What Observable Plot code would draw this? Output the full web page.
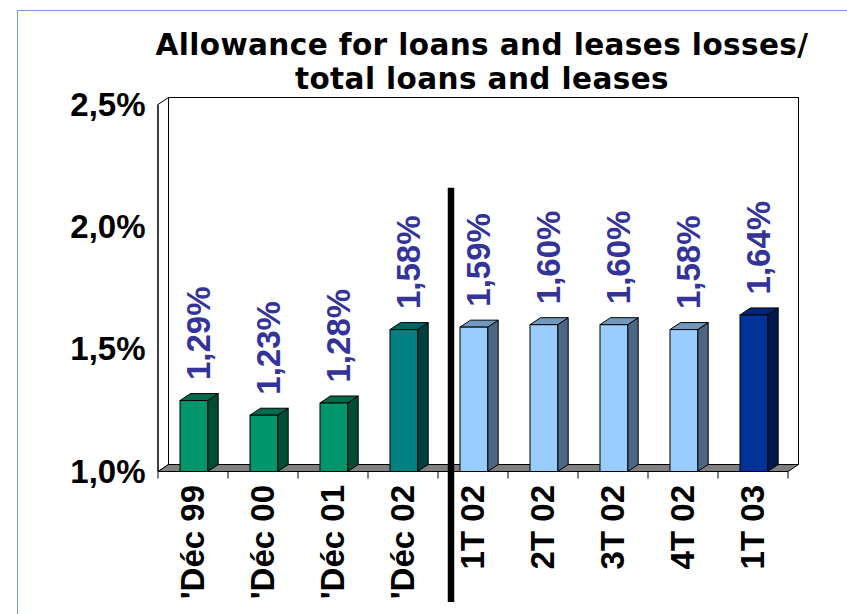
<!DOCTYPE html>
<html>
<head>
<meta charset="utf-8">
<script src="https://cdn.jsdelivr.net/npm/d3@7"></script>
<script src="https://cdn.jsdelivr.net/npm/@observablehq/plot@0.6"></script>
<style>
  html, body { margin: 0; padding: 0; background: #fff; }
  #wrap { position: relative; width: 847px; height: 614px; overflow: hidden; }
  #border { position: absolute; left: 17px; top: 10px; width: 900px; height: 700px;
            border-left: 1.5px solid #7c9ce0; border-top: 1.5px solid #7c9ce0; }
  .title { position: absolute; left: 82px; width: 800px; text-align: center;
           font-family: "DejaVu Sans", sans-serif; font-weight: bold; font-size: 29.5px;
           letter-spacing: 0.4px; line-height: 34px; color: #000; white-space: nowrap; }
  #t1 { top: 27.8px; }
  #t2 { top: 62.3px; }
  #chart { position: absolute; left: 0; top: 0; }
</style>
</head>
<body>
<div id="wrap">
  <div id="border"></div>
  <div id="chart"></div>
  <div class="title" id="t1">Allowance for loans and leases losses/</div>
  <div class="title" id="t2">total loans and leases</div>
</div>
<script>
// ---- data ----
const categories = ["'Déc 99", "'Déc 00", "'Déc 01", "'Déc 02", "1T 02", "2T 02", "3T 02", "4T 02", "1T 03"];
const values = [1.29, 1.23, 1.28, 1.58, 1.59, 1.60, 1.60, 1.58, 1.64];
const groups = ["year", "year", "year", "yearLast", "quarter", "quarter", "quarter", "quarter", "current"];
const yTicks = [1.0, 1.5, 2.0, 2.5];
const yDomain = [1.0, 2.5];
const separatorBefore = "1T 02";
const separatorTop = 2.16;

// ---- styles ----
const palette = {
  year:     {front: "#00956A", top: "#006B4A", side: "#004D35"},
  yearLast: {front: "#008080", top: "#006363", side: "#004040"},
  quarter:  {front: "#99CCFF", top: "#7099C2", side: "#4D6684"},
  current:  {front: "#003399", top: "#002575", side: "#001A4D"}
};
const DX = 10.5, DY = -7;           // 3D depth offset
const insetL = 22, barW = 27.7;     // front face inside each band
const fmt = v => v.toFixed(2).replace(".", ",") + "%";
const fmtTick = v => v.toFixed(1).replace(".", ",") + "%";
const labelFont = "'Liberation Sans', Arial, sans-serif";

const data = categories.map((c, i) => ({cat: c, value: values[i], group: groups[i], label: fmt(values[i])}));

function bandStep(x) {
  return x.bandwidth ? x.bandwidth() : (x(categories[1]) - x(categories[0]));
}

// back/left walls, floor, front axis line and x ticks
function walls(index, scales, vals, dims) {
  const {x, y} = scales;
  const x0 = dims.marginLeft, x1 = dims.width - dims.marginRight;
  const yb = y(yDomain[0]), yt = y(yDomain[1]);
  const g = d3.create("svg:g").attr("stroke", "#000").attr("stroke-width", 1);
  g.append("rect").attr("x", x0 + DX).attr("y", yt + DY).attr("width", x1 - x0).attr("height", yb - yt)
    .attr("fill", "#fff");
  g.append("polygon").attr("points", [[x0, yt], [x0 + DX, yt + DY], [x0 + DX, yb + DY], [x0, yb]].join(" "))
    .attr("fill", "#fff");
  g.append("polygon").attr("points", [[x0, yb], [x0 + DX, yb + DY], [x1 + DX, yb + DY], [x1, yb]].join(" "))
    .attr("fill", "#808080");
  g.append("line").attr("x1", x0).attr("x2", x0).attr("y1", yt).attr("y2", yb);
  const step = bandStep(x);
  const bounds = categories.map(c => x(c)).concat([x(categories[categories.length - 1]) + step]);
  for (const bx of bounds) {
    g.append("line").attr("x1", bx).attr("x2", bx).attr("y1", yb).attr("y2", yb + 7);
  }
  return g.node();
}

// side and top faces of each bar
function extrusions(index, scales, vals, dims) {
  const {x, y} = scales;
  const g = d3.create("svg:g").attr("stroke", "#000").attr("stroke-width", 1).attr("stroke-linejoin", "round");
  for (const d of data) {
    const l = x(d.cat) + insetL, r = l + barW;
    const t = y(d.value), b = y(yDomain[0]);
    const p = palette[d.group];
    g.append("polygon").attr("points", [[r, t], [r + DX, t + DY], [r + DX, b + DY], [r, b]].join(" "))
      .attr("fill", p.side);
    g.append("polygon").attr("points", [[l, t], [l + DX, t + DY], [r + DX, t + DY], [r, t]].join(" "))
      .attr("fill", p.top);
  }
  return g.node();
}

function separator(index, scales, vals, dims) {
  const {x, y} = scales;
  const sx = x(separatorBefore) + 13;
  return d3.create("svg:line")
    .attr("x1", sx).attr("x2", sx)
    .attr("y1", y(separatorTop)).attr("y2", dims.height - 12)
    .attr("stroke", "#000").attr("stroke-width", 6.5).node();
}

const chart = Plot.plot({
  width: 847,
  height: 614,
  marginLeft: 158,
  marginRight: 59,
  marginTop: 104.5,
  marginBottom: 142.5,
  style: {fontFamily: labelFont, fontSize: "33px", fontWeight: "bold", color: "#000", background: "transparent", overflow: "visible"},
  x: {domain: categories, padding: 0, tickSize: 0, tickPadding: 13, tickRotate: -90, label: null},
  y: {domain: yDomain, ticks: yTicks, tickFormat: fmtTick, tickSize: 0, tickPadding: 13, label: null},
  color: {type: "identity"},
  marks: [
    walls,
    extrusions,
    Plot.barY(data, {
      x: "cat", y1: yDomain[0], y2: "value",
      fill: d => palette[d.group].front,
      stroke: "#000", strokeWidth: 1,
      insetLeft: insetL, insetRight: 70 - insetL - barW
    }),
    Plot.text(data, {
      x: "cat", y: "value", text: "label",
      rotate: -90, textAnchor: "start", dx: 6, dy: -21,
      fill: "#333399", fontSize: 33, fontWeight: "bold", fontFamily: labelFont
    }),
    separator
  ]
});
document.getElementById("chart").appendChild(chart);
</script>
</body>
</html>
